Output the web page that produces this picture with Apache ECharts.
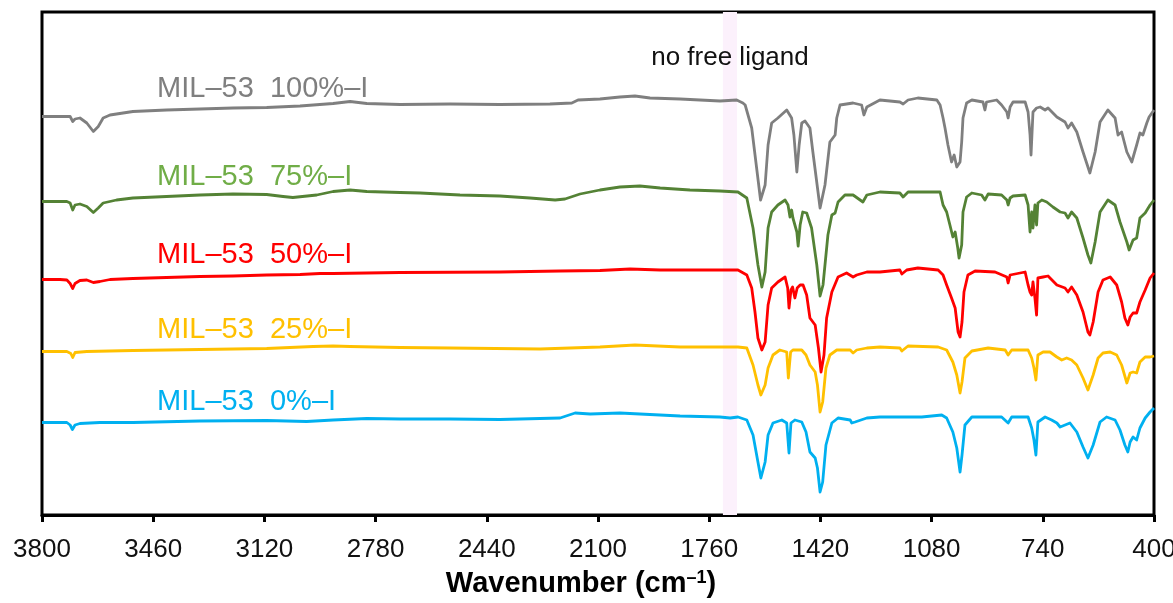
<!DOCTYPE html>
<html>
<head>
<meta charset="utf-8">
<script src="https://cdn.jsdelivr.net/npm/echarts@6/dist/echarts.min.js"></script>
<style>
  html, body { margin: 0; padding: 0; background: #fff; }
  #chart { width: 1173px; height: 603px; }
</style>
</head>
<body>
<div id="chart"></div>
<script>
// FTIR spectra of MIL-53 with increasing iodo-linker content (offset transmittance, a.u.)
const seriesNames = ['MIL\u201353  100%\u2013I', 'MIL\u201353  75%\u2013I', 'MIL\u201353  50%\u2013I', 'MIL\u201353  25%\u2013I', 'MIL\u201353  0%\u2013I'];
const lineColors = ['#7f7f7f', '#548235', '#ff0000', '#ffc000', '#00b0f0'];
const labelColors = ['#7f7f7f', '#70ad47', '#ff0000', '#ffc000', '#00b0f0'];
// label anchor per spectrum: [wavenumber, offset transmittance]
const labelAnchors = [[3448, 85.2], [3448, 67.7], [3448, 52.0], [3448, 37.0], [3448, 22.6]];

// x axis: wavenumber, drawn high -> low
const xMin = 400, xMax = 3800, xStep = 340;
// band where the free-ligand C=O stretch would appear
const ligandBand = [1718, 1675];
const ligandText = 'no free ligand';

const spec100 = [
  [3800,79.7],[3791,79.7],[3714,79.7],[3706,78.7],[3699,79.2],[3684,79.4],[3663,78.4],[3643,76.7],[3628,77.7],[3613,79.4],
  [3592,80.0],[3522,80.7],[3419,81.0],[3317,81.2],[3216,81.4],[3113,81.5],[3011,81.8],[2910,82.3],[2858,82.7],[2807,82.3],
  [2705,82.1],[2552,82.2],[2400,82.1],[2247,82.2],[2180,82.4],[2161,83.0],[2094,83.2],[2033,83.6],[1987,83.8],[1941,83.4],
  [1849,83.2],[1788,83.0],[1727,82.8],[1676,83.0],[1657,82.4],[1650,82.0],[1630,77.4],[1615,69.4],[1603,63.0],[1589,66.0],
  [1580,74.0],[1569,78.4],[1550,79.4],[1523,81.0],[1508,79.4],[1501,76.0],[1492,68.6],[1485,74.0],[1477,78.4],[1467,78.8],
  [1452,77.4],[1443,72.6],[1421,61.4],[1406,66.0],[1391,74.6],[1375,76.0],[1370,79.4],[1360,82.0],[1320,82.4],[1294,82.0],
  [1287,80.0],[1278,81.6],[1238,83.0],[1177,82.6],[1167,82.2],[1152,83.0],[1122,83.4],[1064,83.0],[1054,82.0],[1045,79.4],
  [1039,77.4],[1030,74.0],[1019,70.6],[1011,72.0],[1003,69.6],[993,70.6],[988,74.6],[984,79.4],[973,82.4],[957,83.0],
  [923,82.6],[917,81.0],[912,82.6],[881,83.0],[866,82.0],[850,80.6],[846,79.4],[840,81.6],[831,82.6],[794,82.6],
  [785,80.6],[779,76.0],[776,72.0],[770,80.6],[759,81.4],[748,81.6],[733,81.0],[724,81.4],[697,79.6],[672,78.6],
  [663,77.4],[652,78.4],[636,76.6],[617,72.6],[596,68.4],[580,72.6],[565,78.6],[541,81.0],[519,79.4],[510,76.0],
  [499,76.6],[483,72.6],[468,70.6],[453,74.0],[443,76.4],[434,76.0],[422,78.4],[415,79.6],[400,81.0]
];

const spec75 = [
  [3800,62.7],[3791,62.7],[3724,62.7],[3714,62.4],[3706,61.0],[3699,62.0],[3684,62.2],[3663,61.7],[3643,60.5],[3628,61.4],
  [3613,62.4],[3572,63.0],[3522,63.4],[3419,63.7],[3317,64.0],[3216,64.2],[3113,64.1],[3063,63.7],[3033,63.5],[2960,64.0],
  [2910,64.7],[2858,65.0],[2807,64.7],[2705,64.5],[2644,64.4],[2522,64.0],[2400,63.8],[2308,63.4],[2231,63.0],[2201,63.2],
  [2155,64.2],[2094,65.0],[2033,65.6],[1972,65.8],[1910,65.4],[1819,65.0],[1727,64.8],[1672,64.6],[1645,63.4],[1626,57.4],
  [1611,50.0],[1599,45.6],[1589,48.6],[1580,57.4],[1569,60.6],[1550,62.0],[1528,63.0],[1519,62.0],[1513,59.6],[1508,61.0],
  [1504,59.4],[1492,56.6],[1488,53.8],[1482,58.0],[1474,60.6],[1462,60.4],[1447,57.4],[1431,50.0],[1421,43.8],[1412,46.0],
  [1397,56.0],[1385,60.0],[1375,60.4],[1366,62.6],[1345,64.0],[1320,64.0],[1290,62.6],[1278,64.0],[1238,64.6],[1177,64.4],
  [1167,63.6],[1152,64.6],[1054,64.6],[1045,62.0],[1034,60.6],[1024,58.0],[1015,55.6],[1008,56.6],[1000,53.4],[996,51.4],
  [988,54.0],[984,60.6],[973,63.6],[957,64.4],[927,64.0],[917,63.0],[907,64.2],[866,64.0],[850,63.0],[846,62.0],
  [840,63.4],[831,63.8],[794,64.0],[785,62.0],[779,56.6],[774,60.6],[770,57.4],[764,62.0],[759,58.0],[755,62.4],
  [743,63.0],[728,62.6],[709,61.6],[687,60.6],[672,60.4],[663,59.4],[652,60.6],[636,59.4],[617,55.4],[602,52.0],
  [593,50.4],[580,54.6],[565,60.6],[541,63.0],[519,62.0],[504,58.6],[483,54.6],[476,53.0],[464,55.0],[453,55.4],
  [443,59.4],[427,60.4],[412,62.0],[400,63.0]
];

const spec50 = [
  [3800,47.1],[3791,47.1],[3745,47.1],[3724,47.0],[3714,46.3],[3706,45.3],[3699,46.3],[3684,46.9],[3663,47.0],[3643,46.5],
  [3623,46.7],[3592,47.1],[3522,47.3],[3419,47.5],[3317,47.7],[3216,47.8],[3113,48.0],[3011,48.1],[2950,48.3],[2910,48.3],
  [2705,48.5],[2400,48.6],[2216,48.8],[2094,48.9],[2002,49.2],[1910,49.0],[1788,49.0],[1672,49.0],[1645,48.0],[1630,45.4],
  [1620,40.6],[1611,35.4],[1599,33.0],[1589,34.6],[1580,42.0],[1569,45.4],[1550,46.6],[1528,47.6],[1520,45.4],[1516,41.4],
  [1510,45.0],[1505,45.6],[1498,43.4],[1491,45.4],[1482,46.0],[1473,46.0],[1462,44.0],[1452,39.4],[1436,38.0],[1426,33.4],
  [1418,28.6],[1409,32.0],[1401,39.4],[1385,44.6],[1366,47.6],[1340,48.4],[1320,47.6],[1309,48.0],[1278,48.6],[1238,48.6],
  [1177,49.0],[1171,48.2],[1156,49.0],[1122,49.4],[1060,49.0],[1045,48.0],[1034,46.0],[1019,43.4],[1008,41.4],[999,36.6],
  [993,35.6],[987,38.6],[981,44.6],[969,48.0],[947,48.8],[886,48.6],[850,47.6],[846,46.4],[840,48.0],[794,48.6],
  [785,46.0],[779,44.6],[774,44.0],[770,46.6],[764,43.4],[759,40.0],[755,47.4],[739,47.6],[724,47.8],[697,46.0],
  [672,45.4],[663,44.6],[652,45.6],[636,44.0],[617,40.6],[602,36.6],[596,36.0],[586,38.6],[571,44.6],[556,47.0],
  [534,47.6],[514,46.0],[499,42.6],[489,39.4],[480,38.0],[473,39.6],[464,40.4],[453,40.4],[443,42.6],[427,45.0],
  [412,47.4],[400,48.4]
];

const spec25 = [
  [3800,32.7],[3791,32.7],[3724,32.7],[3712,32.3],[3706,31.5],[3699,32.5],[3663,32.7],[3522,32.9],[3317,33.1],[3113,33.3],
  [2971,33.7],[2910,33.8],[2858,33.7],[2705,33.5],[2552,33.4],[2277,33.2],[2094,33.6],[1987,34.0],[1849,33.6],[1672,33.6],
  [1666,34.0],[1645,33.4],[1626,30.0],[1611,26.0],[1602,24.0],[1589,26.0],[1580,29.4],[1565,32.0],[1544,33.0],[1523,32.6],
  [1518,27.4],[1511,32.6],[1504,33.0],[1477,33.0],[1464,32.0],[1452,30.0],[1436,28.6],[1429,26.0],[1421,20.6],[1413,22.6],
  [1403,29.4],[1391,32.0],[1370,33.0],[1329,33.0],[1320,32.4],[1309,33.0],[1278,33.4],[1238,33.6],[1177,33.4],[1171,32.8],
  [1152,33.8],[1060,33.6],[1034,33.0],[1015,30.6],[1003,28.0],[993,24.4],[987,26.6],[978,31.4],[957,32.8],[907,33.4],
  [855,33.0],[846,32.0],[835,33.0],[785,33.0],[774,31.4],[767,29.4],[761,27.0],[755,32.0],[739,32.6],[718,32.6],
  [697,31.6],[682,31.0],[667,31.4],[652,31.0],[636,30.0],[617,27.4],[602,25.0],[586,28.0],[571,31.4],[556,32.4],
  [534,32.6],[514,32.0],[499,30.0],[483,26.4],[473,28.4],[464,28.6],[453,28.4],[443,30.6],[427,31.6],[412,31.6],
  [400,31.8]
];

const spec0 = [
  [3800,18.5],[3791,18.5],[3724,18.5],[3714,18.0],[3707,17.1],[3699,18.0],[3684,18.3],[3623,18.5],[3522,18.5],[3317,18.8],
  [3113,18.9],[2991,18.7],[2910,19.0],[2807,19.3],[2705,19.2],[2552,19.2],[2400,19.1],[2216,19.4],[2170,20.4],[2124,20.2],
  [2033,20.4],[1972,20.2],[1849,19.8],[1727,19.6],[1696,19.4],[1672,19.6],[1645,19.0],[1626,16.0],[1611,10.6],[1602,7.4],
  [1589,10.6],[1580,16.0],[1565,18.4],[1538,19.0],[1523,18.4],[1516,12.4],[1510,18.4],[1498,19.0],[1477,18.6],[1464,16.6],
  [1452,12.6],[1436,11.4],[1429,9.4],[1421,4.6],[1413,6.6],[1403,14.0],[1385,18.4],[1366,19.4],[1329,19.0],[1324,18.4],
  [1314,18.6],[1278,19.4],[1238,19.6],[1177,19.6],[1171,19.4],[1110,19.6],[1049,20.0],[1034,19.4],[1015,16.6],[1003,13.4],
  [993,8.6],[987,12.0],[978,18.0],[957,19.6],[866,19.6],[846,18.4],[835,19.6],[785,19.6],[774,17.4],[767,15.0],
  [761,12.0],[755,18.6],[733,19.6],[713,19.0],[697,18.4],[687,17.6],[672,18.0],[657,18.4],[636,16.6],[617,13.6],
  [602,11.4],[586,14.0],[565,18.6],[545,19.6],[519,19.0],[504,17.0],[489,14.0],[480,12.6],[473,14.6],[464,15.6],
  [453,15.0],[443,17.4],[427,19.4],[412,20.6],[400,21.4]
];

const spectra = [spec100, spec75, spec50, spec25, spec0];
const FONT = '"Liberation Sans", Arial, sans-serif';

const series = spectra.map((data, i) => {
  const s = {
    name: seriesNames[i],
    type: 'line',
    data: data,
    showSymbol: false,
    symbol: 'none',
    smooth: false,
    z: 3,
    lineStyle: { color: lineColors[i], width: 2.8, join: 'round' },
    markPoint: {
      symbol: 'circle',
      symbolSize: 0,
      silent: true,
      label: {
        show: true,
        position: 'right',
        distance: 0,
        formatter: seriesNames[i],
        color: labelColors[i],
        fontFamily: FONT,
        fontSize: 29
      },
      data: [{ coord: labelAnchors[i] }]
    }
  };
  if (i === 0) {
    s.markArea = {
      silent: true,
      z: 1,
      itemStyle: { color: '#fcf1fc' },
      label: {
        show: true,
        position: 'insideTop',
        distance: 33,
        formatter: ligandText,
        color: '#111',
        fontFamily: FONT,
        fontSize: 26
      },
      data: [[{ xAxis: ligandBand[0] }, { xAxis: ligandBand[1] }]]
    };
  }
  return s;
});

const chart = echarts.init(document.getElementById('chart'), null, { renderer: 'canvas' });
chart.setOption({
  animation: false,
  backgroundColor: '#fff',
  grid: {
    left: 42, right: 19, top: 12, bottom: 88,
    outerBoundsMode: 'none',
    containLabel: false,
    show: true,
    borderColor: '#000',
    borderWidth: 3,
    backgroundColor: 'transparent'
  },
  xAxis: {
    type: 'value',
    inverse: true,
    min: xMin,
    max: xMax,
    interval: xStep,
    splitLine: { show: false },
    axisLine: { show: true, lineStyle: { color: '#000', width: 3 } },
    axisTick: { show: true, inside: false, length: 7, lineStyle: { color: '#000', width: 3 } },
    axisLabel: { color: '#111', fontFamily: FONT, fontSize: 26, margin: 22, formatter: v => String(v) },
    name: 'Wavenumber (cm{sup|\u20131})',
    nameLocation: 'middle',
    nameGap: 54,
    nameTextStyle: {
      color: '#000',
      fontFamily: FONT,
      fontSize: 29,
      fontWeight: 'bold',
      padding: [0, 34, 0, 0],
      rich: {
        sup: { fontFamily: FONT, fontSize: 18, fontWeight: 'bold', color: '#000', verticalAlign: 'top', padding: [0, 0, 12, 0] }
      }
    }
  },
  yAxis: {
    type: 'value',
    min: 0,
    max: 100.6,
    show: false,
    splitLine: { show: false }
  },
  series: series
});
</script>
</body>
</html>
